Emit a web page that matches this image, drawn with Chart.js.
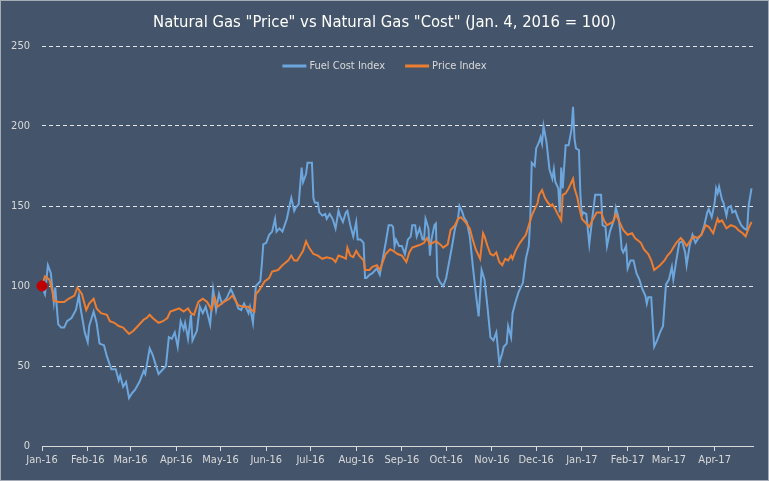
<!DOCTYPE html>
<html>
<head>
<meta charset="utf-8">
<script src="https://cdn.jsdelivr.net/npm/chart.js@4.4.1/dist/chart.umd.min.js"></script>
<style>
  html, body { margin: 0; padding: 0; background: #44546A; }
  #wrap { width: 769px; height: 481px; }
</style>
</head>
<body>
<div id="wrap"><canvas id="myChart" width="769" height="481"></canvas></div>
<script>
// days counted from Jan. 4, 2016 (= day 0)
const monthLabels = ['Jan-16', 'Feb-16', 'Mar-16', 'Apr-16', 'May-16', 'Jun-16', 'Jul-16', 'Aug-16',
  'Sep-16', 'Oct-16', 'Nov-16', 'Dec-16', 'Jan-17', 'Feb-17', 'Mar-17', 'Apr-17'];
const monthDays = [0, 31, 60, 91, 121, 152, 182, 213, 244, 274, 305, 335, 366, 397, 425, 456];
const yTicks = [0, 50, 100, 150, 200, 250];
const chartTitle = 'Natural Gas "Price" vs Natural Gas "Cost" (Jan. 4, 2016 = 100)';

const costDays = [0, 2, 4, 6, 8, 9, 10, 11, 13, 15, 17, 20, 23, 25, 26, 29, 31, 32, 35, 37, 39, 42, 44, 47, 50,
  52, 53, 55, 57, 59, 61, 63, 66, 69, 70, 73, 75, 77, 79, 82, 84, 86, 88, 90, 92, 94, 96, 97, 99, 101,
  102, 105, 107, 109, 111, 114, 116, 118, 120, 122, 125, 128, 131, 133, 135, 137, 140, 141, 143, 145,
  148, 149, 150, 152, 154, 156, 158, 159, 161, 163, 166, 168, 169, 171, 172, 174, 176, 177, 179, 180,
  183, 184, 185, 187, 188, 190, 192, 193, 195, 197, 199, 201, 202, 204, 206, 207, 209, 211, 213, 214,
  216, 218, 219, 220, 222, 224, 226, 227, 229, 231, 233, 235, 237, 238, 239, 240, 242, 244, 246, 248,
  250, 251, 253, 254, 256, 258, 259, 260, 262, 263, 264, 266, 267, 268, 270, 272, 274, 276, 278, 280,
  282, 283, 285, 286, 288, 290, 292, 294, 296, 298, 300, 302, 304, 306, 308, 310, 312, 313, 315, 316,
  318, 319, 321, 323, 326, 328, 330, 331, 332, 334, 335, 337, 338, 339, 340, 342, 344, 346, 347, 348,
  350, 351, 352, 353, 355, 357, 359, 360, 361, 362, 364, 365, 366, 367, 369, 371, 373, 375, 379, 380,
  382, 383, 385, 388, 389, 391, 392, 393, 394, 396, 397, 399, 401, 403, 405, 407, 409, 410, 411, 413,
  415, 417, 419, 421, 423, 425, 427, 428, 430, 432, 434, 436, 437, 439, 441, 443, 445, 447, 449, 451,
  452, 454, 456, 457, 458, 459, 461, 462, 464, 465, 467, 468, 470, 472, 474, 476, 478, 479, 481];
const costIndex = [100, 95, 113, 108, 90, 99, 87, 76, 74, 74, 78, 80, 85, 94, 87, 71, 65, 75, 84, 77, 64, 63, 56, 48, 48,
  41, 44, 37, 40, 30, 33, 35, 40, 47, 45, 61, 57, 51, 45, 48, 50, 68, 67, 71, 62, 78, 73, 77, 67, 82,
  66, 72, 87, 83, 87, 76, 98, 85, 95, 89, 92, 98, 92, 86, 85, 89, 83, 87, 77, 100,
  103, 113, 126, 127, 132, 134, 142, 134, 136, 134, 142, 151, 155, 147, 149, 151, 174, 165, 170, 177,
  177, 155, 152, 152, 146, 144, 145, 142, 145, 142, 136, 147, 144, 140, 146, 147, 138, 131, 140, 129,
  129, 127, 105, 105, 107, 108, 110, 111, 107, 117, 127, 138, 138, 137, 125, 129, 125, 125, 120, 129,
  131, 138, 138, 131, 136, 129, 129, 142, 136, 119, 129, 138, 139, 106, 102, 100, 105, 115, 125, 136,
  142, 150, 146, 143, 140, 131, 113, 96, 81, 110, 104, 87, 68, 66, 71, 52, 58, 62, 64, 75,
  68, 83, 90, 96, 102, 117, 125, 142, 177, 175, 186, 190, 193, 189, 200, 190, 173, 167, 173, 165,
  161, 146, 174, 161, 188, 188, 198, 212, 192, 186, 185, 157, 144, 146, 145, 126, 142, 157, 157, 138,
  137, 125, 134, 142, 149, 142, 134, 123, 121, 125, 111, 116, 116, 108, 104, 98, 94, 89, 93, 93,
  62, 66, 71, 75, 101, 104, 112, 104, 116, 127, 128, 121, 113, 125, 132, 127, 130, 132, 138, 146,
  148, 143, 152, 161, 158, 162, 154, 152, 144, 149, 150, 146, 147, 142, 138, 136, 135, 150, 161];

const priceDays = [0, 2, 5, 7, 8, 11, 15, 18, 22, 24, 27, 30, 32, 35, 37, 40, 44, 46, 49, 52, 55, 59, 62, 65, 69,
  71, 73, 75, 79, 82, 85, 87, 90, 93, 96, 99, 101, 103, 106, 109, 112, 115, 117, 119, 123, 127, 129, 133,
  136, 140, 142, 144, 145, 147, 149, 151, 154, 156, 160, 163, 167, 169, 171, 173, 177, 179, 181, 184,
  187, 190, 193, 197, 199, 201, 204, 206, 207, 209, 211, 213, 215, 218, 219, 222, 224, 227, 229, 231,
  233, 236, 238, 241, 244, 247, 249, 251, 254, 257, 259, 261, 263, 267, 270, 272, 275, 277, 280, 282,
  284, 286, 287, 290, 292, 294, 297, 299, 300, 302, 304, 306, 308, 310, 312, 314, 316, 318, 319, 321,
  324, 328, 330, 332, 334, 336, 337, 339, 341, 343, 345, 346, 348, 349, 352, 353, 355, 357, 360, 361,
  363, 364, 366, 368, 371, 373, 376, 379, 381, 383, 387, 389, 392, 394, 397, 400, 402, 406, 408, 411,
  413, 415, 419, 422, 424, 426, 428, 430, 433, 435, 437, 440, 442, 444, 447, 450, 452, 455, 458, 459,
  461, 464, 467, 470, 472, 475, 477, 479, 481];
const priceIndex = [100, 106, 104, 97, 91, 90, 90, 92, 94, 99, 95, 85, 89, 92, 86, 83, 82, 78, 77, 75, 74, 70, 72, 75, 79,
  80, 82, 80, 77, 78, 80, 84, 85, 86, 84, 86, 83, 82, 90, 92, 90, 85, 93, 87, 90, 92, 94, 88,
  87, 87, 85, 84, 95, 97, 100, 103, 105, 109, 110, 113, 116, 119, 116, 116, 122, 128, 124, 120,
  119, 117, 118, 117, 115, 119, 118, 117, 124, 119, 118, 122, 119, 116, 110, 110, 112, 113, 110, 115,
  120, 123, 122, 120, 119, 115, 121, 124, 125, 126, 127, 130, 126, 128, 126, 124, 126, 135, 138, 142,
  143, 141, 140, 136, 129, 123, 117, 133, 131, 125, 120, 119, 121, 115, 113, 117, 116, 119, 117, 122,
  127, 132, 138, 144, 148, 152, 157, 160, 155, 152, 150, 151, 148, 146, 141, 157, 158, 161, 167, 161,
  155, 150, 142, 140, 137, 141, 146, 146, 141, 138, 140, 145, 139, 135, 132, 133, 130, 127, 123, 120,
  116, 110, 113, 116, 119, 121, 124, 127, 130, 128, 125, 129, 131, 130, 132, 138, 137, 133, 142, 140,
  141, 136, 138, 137, 135, 133, 131, 136, 140];

const baseDay = [0];
const baseValue = [100];

const pair = (xs, ys) => xs.map((x, i) => ({ x: x, y: ys[i] }));
const FONT = "'Liberation Sans Narrow', 'DejaVu Sans Condensed', sans-serif";

const bgPlugin = {
  id: 'bg',
  beforeDraw(chart) {
    const c = chart.ctx;
    c.save();
    c.fillStyle = '#44546A';
    c.fillRect(0, 0, chart.width, chart.height);
    c.strokeStyle = '#A5ACB8';
    c.lineWidth = 1;
    c.strokeRect(0.5, 0.5, chart.width - 1, chart.height - 1);
    c.restore();
  }
};

// title centred on the whole picture, legend inside the plot, as in the original
const titleAndLegend = {
  id: 'titleAndLegend',
  afterDraw(chart) {
    const c = chart.ctx;
    c.save();
    c.font = '16.5px ' + FONT;
    c.fillStyle = '#FFFFFF';
    c.textAlign = 'center';
    c.textBaseline = 'middle';
    c.fillText(chartTitle, chart.width / 2, 23);

    const items = chart.data.datasets.filter(d => d.label);
    c.font = '11px ' + FONT;
    c.textAlign = 'left';
    const lineW = 24, gapA = 3, gapB = 20;
    let total = 0;
    items.forEach((d, i) => {
      total += lineW + gapA + c.measureText(d.label).width + (i < items.length - 1 ? gapB : 0);
    });
    let x = chart.width / 2 - total / 2;
    const y = 66;
    items.forEach(d => {
      c.strokeStyle = d.borderColor;
      c.lineWidth = 3;
      c.beginPath();
      c.moveTo(x, y);
      c.lineTo(x + lineW, y);
      c.stroke();
      x += lineW + gapA;
      c.fillStyle = '#D9D9D9';
      c.fillText(d.label, x, y);
      x += c.measureText(d.label).width + gapB;
    });
    c.restore();
  }
};

const ctx = document.getElementById('myChart');
const myChart = new Chart(ctx, {
  type: 'line',
  data: {
    datasets: [
      {
        data: pair(baseDay, baseValue),
        showLine: false,
        pointRadius: 5,
        pointBackgroundColor: '#C00000',
        pointBorderColor: '#C00000',
        clip: false,
        order: 0,
      },
      {
        label: 'Fuel Cost Index',
        data: pair(costDays, costIndex),
        borderColor: '#6CA6DC',
        borderWidth: 2,
        pointRadius: 0,
        tension: 0,
        order: 2,
      },
      {
        label: 'Price Index',
        data: pair(priceDays, priceIndex),
        borderColor: '#ED7D31',
        borderWidth: 2,
        pointRadius: 0,
        tension: 0,
        order: 1,
      },
    ],
  },
  options: {
    responsive: false,
    animation: false,
    layout: { padding: { left: 0, right: 16, top: 46, bottom: 0 } },
    scales: {
      x: {
        type: 'linear',
        min: 0,
        max: 482,
        afterBuildTicks: (scale) => { scale.ticks = monthDays.map(v => ({ value: v })); },
        afterFit: (scale) => { scale.height = 35; },
        ticks: {
          autoSkip: false,
          maxRotation: 0,
          padding: 3,
          color: '#D9D9D9',
          font: { family: FONT, size: 11 },
          callback: (v) => monthLabels[monthDays.indexOf(v)],
        },
        grid: {
          drawOnChartArea: false,
          drawTicks: true,
          tickLength: 5,
          color: '#D9D9D9',
        },
        border: { display: true, color: '#D9D9D9', width: 1 },
      },
      y: {
        min: 0,
        max: 250,
        afterBuildTicks: (scale) => { scale.ticks = yTicks.map(v => ({ value: v })); },
        afterFit: (scale) => { scale.width = 42; },
        ticks: {
          padding: 12,
          color: '#D9D9D9',
          font: { family: FONT, size: 11 },
        },
        grid: {
          drawTicks: false,
          color: (c) => (c.tick && c.tick.value === 0 ? 'rgba(0,0,0,0)' : 'rgba(255,255,255,0.85)'),
          lineWidth: 1,
        },
        border: { display: true, width: 0, color: 'rgba(0,0,0,0)', dash: [4, 3] },
      },
    },
    plugins: {
      legend: { display: false },
      tooltip: { enabled: false },
      title: { display: false },
    },
  },
  plugins: [bgPlugin, titleAndLegend],
});
</script>
</body>
</html>
